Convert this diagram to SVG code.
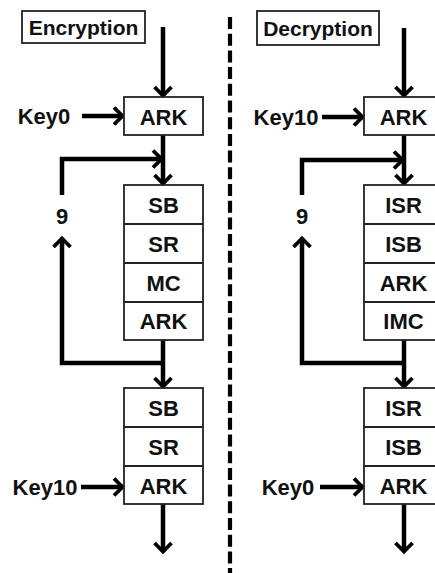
<svg xmlns="http://www.w3.org/2000/svg" width="435" height="573" viewBox="0 0 435 573">
<style>
text{font-family:"Liberation Sans",Arial,sans-serif;font-weight:bold;font-size:22px;fill:#111;text-anchor:middle;dominant-baseline:central}
.title{font-size:21px}
.box{fill:#fff;stroke:#222;stroke-width:1.8}
.div{stroke:#222;stroke-width:1.8}
.ar{fill:none;stroke:#000;stroke-width:4.5;marker-end:url(#ah)}
</style>
<defs>
<marker id="ah" markerUnits="userSpaceOnUse" viewBox="-12 -12 16 24" markerWidth="16" markerHeight="24" refX="0" refY="0" orient="auto" overflow="visible">
<path d="M-9,-8.5 L-0.5,0 L-9,8.5" fill="none" stroke="#000" stroke-width="3.8" stroke-linejoin="miter"/>
</marker>
</defs>
<rect width="435" height="573" fill="#fff"/>
<g id="connectors">
<line class="ar" x1="163" y1="27" x2="163" y2="96"/>
<line class="ar" x1="82" y1="116" x2="123" y2="116"/>
<line class="ar" x1="163" y1="135" x2="163" y2="184"/>
<polyline class="ar" points="62,195 62,159 162,159"/>
<polyline class="ar" points="163,363 62,363 62,238"/>
<line class="ar" x1="163" y1="340" x2="163" y2="387"/>
<line class="ar" x1="81" y1="487" x2="123" y2="487"/>
<line class="ar" x1="163" y1="504" x2="163" y2="552"/>
<line class="ar" x1="404" y1="28" x2="404" y2="96"/>
<line class="ar" x1="322" y1="117" x2="363" y2="117"/>
<line class="ar" x1="404" y1="135" x2="404" y2="184"/>
<polyline class="ar" points="302,195 302,160 403,160"/>
<polyline class="ar" points="404,363 302,363 302,238"/>
<line class="ar" x1="404" y1="340" x2="404" y2="387"/>
<line class="ar" x1="320" y1="487" x2="363" y2="487"/>
<line class="ar" x1="404" y1="504" x2="404" y2="552"/>
<line x1="230" y1="17" x2="230" y2="573" stroke="#000" stroke-width="4.2" stroke-dasharray="12,4.7"/>
</g>
<g id="enc-title"><rect class="box" x="22" y="11" width="123" height="32"/><text class="title" x="83.5" y="27">Encryption</text></g>
<g id="enc-ark0"><rect class="box" x="124" y="97" width="79" height="38"/><text x="163.5" y="117">ARK</text></g>
<g id="enc-key0"><text x="44" y="116">Key0</text></g>
<g id="enc-nine"><text x="62" y="216">9</text></g>
<g id="enc-round">
<rect class="box" x="124" y="185" width="79" height="155"/>
<line class="div" x1="124" y1="224" x2="203" y2="224"/>
<line class="div" x1="124" y1="263" x2="203" y2="263"/>
<line class="div" x1="124" y1="302" x2="203" y2="302"/>
<text x="163.5" y="205">SB</text><text x="163.5" y="244">SR</text><text x="163.5" y="283">MC</text><text x="163.5" y="321">ARK</text>
</g>
<g id="enc-final">
<rect class="box" x="124" y="388" width="79" height="116"/>
<line class="div" x1="124" y1="427" x2="203" y2="427"/>
<line class="div" x1="124" y1="466" x2="203" y2="466"/>
<text x="163.5" y="408">SB</text><text x="163.5" y="447">SR</text><text x="163.5" y="486">ARK</text>
</g>
<g id="enc-key10"><text x="45" y="487">Key10</text></g>
<g id="dec-title"><rect class="box" x="257" y="11" width="122" height="34"/><text class="title" x="318" y="28">Decryption</text></g>
<g id="dec-ark0"><rect class="box" x="364" y="97" width="79" height="38"/><text x="403.5" y="117">ARK</text></g>
<g id="dec-key10"><text x="286" y="117">Key10</text></g>
<g id="dec-nine"><text x="302" y="216">9</text></g>
<g id="dec-round">
<rect class="box" x="364" y="185" width="79" height="155"/>
<line class="div" x1="364" y1="224" x2="443" y2="224"/>
<line class="div" x1="364" y1="263" x2="443" y2="263"/>
<line class="div" x1="364" y1="302" x2="443" y2="302"/>
<text x="403.5" y="205">ISR</text><text x="403.5" y="244">ISB</text><text x="403.5" y="283">ARK</text><text x="403.5" y="321">IMC</text>
</g>
<g id="dec-final">
<rect class="box" x="364" y="388" width="79" height="116"/>
<line class="div" x1="364" y1="427" x2="443" y2="427"/>
<line class="div" x1="364" y1="466" x2="443" y2="466"/>
<text x="403.5" y="408">ISR</text><text x="403.5" y="447">ISB</text><text x="403.5" y="486">ARK</text>
</g>
<g id="dec-key0"><text x="288" y="487">Key0</text></g>
</svg>
